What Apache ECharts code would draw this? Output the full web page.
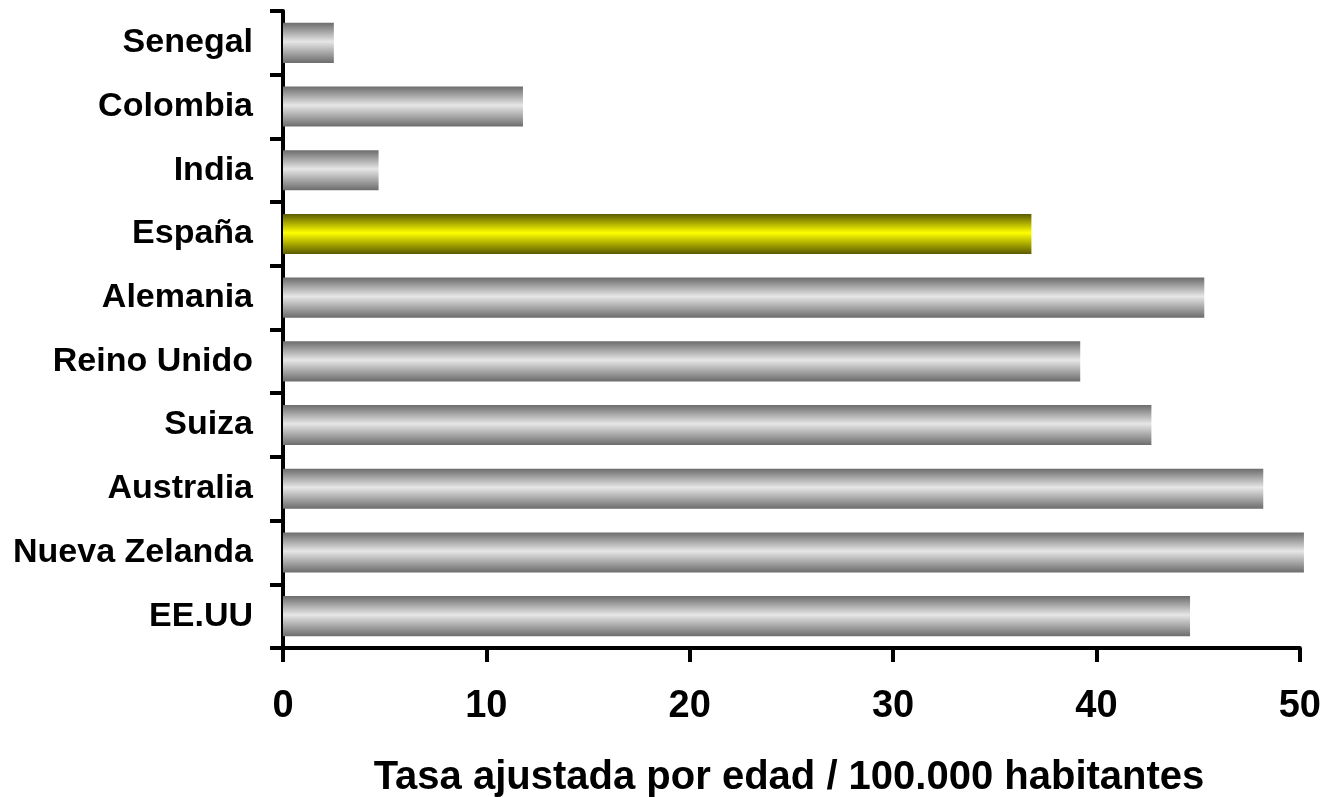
<!DOCTYPE html>
<html>
<head>
<meta charset="utf-8">
<script src="https://cdn.jsdelivr.net/npm/echarts@6/dist/echarts.min.js"></script>
<style>html,body{margin:0;padding:0;background:#fff}#c{width:1324px;height:797px}</style>
</head>
<body>
<div id="c"></div>
<script>
const categories = ['Senegal','Colombia','India','España','Alemania','Reino Unido','Suiza','Australia','Nueva Zelanda','EE.UU'];
const values = [2.5, 11.8, 4.7, 36.8, 45.3, 39.2, 42.7, 48.2, 50.2, 44.6];
const highlight = 'España';
const xTitle = 'Tasa ajustada por edad / 100.000 habitantes';

function grad(edge, mid) {
  return new echarts.graphic.LinearGradient(0, 0, 0, 1, [
    {offset: 0, color: edge},
    {offset: 0.47, color: mid},
    {offset: 1, color: edge}
  ]);
}
const FONT = 'Liberation Sans, Arial, sans-serif';
const chart = echarts.init(document.getElementById('c'));
chart.setOption({
  animation: false,
  backgroundColor: '#fff',
  grid: {left: 283, right: 24, top: 11, bottom: 149, containLabel: false},
  xAxis: {
    type: 'value', min: 0, max: 50, interval: 10,
    axisLine: {show: true, lineStyle: {color: '#000', width: 4}},
    axisTick: {show: true, length: 14, lineStyle: {color: '#000', width: 4}},
    axisLabel: {color: '#000', fontSize: 38, fontWeight: 'bold', fontFamily: FONT, margin: 40},
    splitLine: {show: false}
  },
  yAxis: {
    type: 'category', data: categories, inverse: true,
    axisLine: {show: true, lineStyle: {color: '#000', width: 4}},
    axisTick: {show: true, length: 13, lineStyle: {color: '#000', width: 4}},
    axisLabel: {color: '#000', fontSize: 34, fontWeight: 'bold', fontFamily: FONT, margin: 30}
  },
  series: [{
    type: 'bar',
    clip: false,
    barCategoryGap: '37%',
    data: values.map((v, i) => ({
      value: v,
      itemStyle: {color: categories[i] === highlight ? grad('#5a5a00', '#ffff00') : grad('#6c6c6c', '#e6e6e6')}
    }))
  }],
  graphic: [{
    type: 'text', x: 789, y: 778,
    style: {text: xTitle, font: 'bold 40px ' + FONT, fill: '#000', align: 'center', verticalAlign: 'middle'}
  }]
});
</script>
</body>
</html>
